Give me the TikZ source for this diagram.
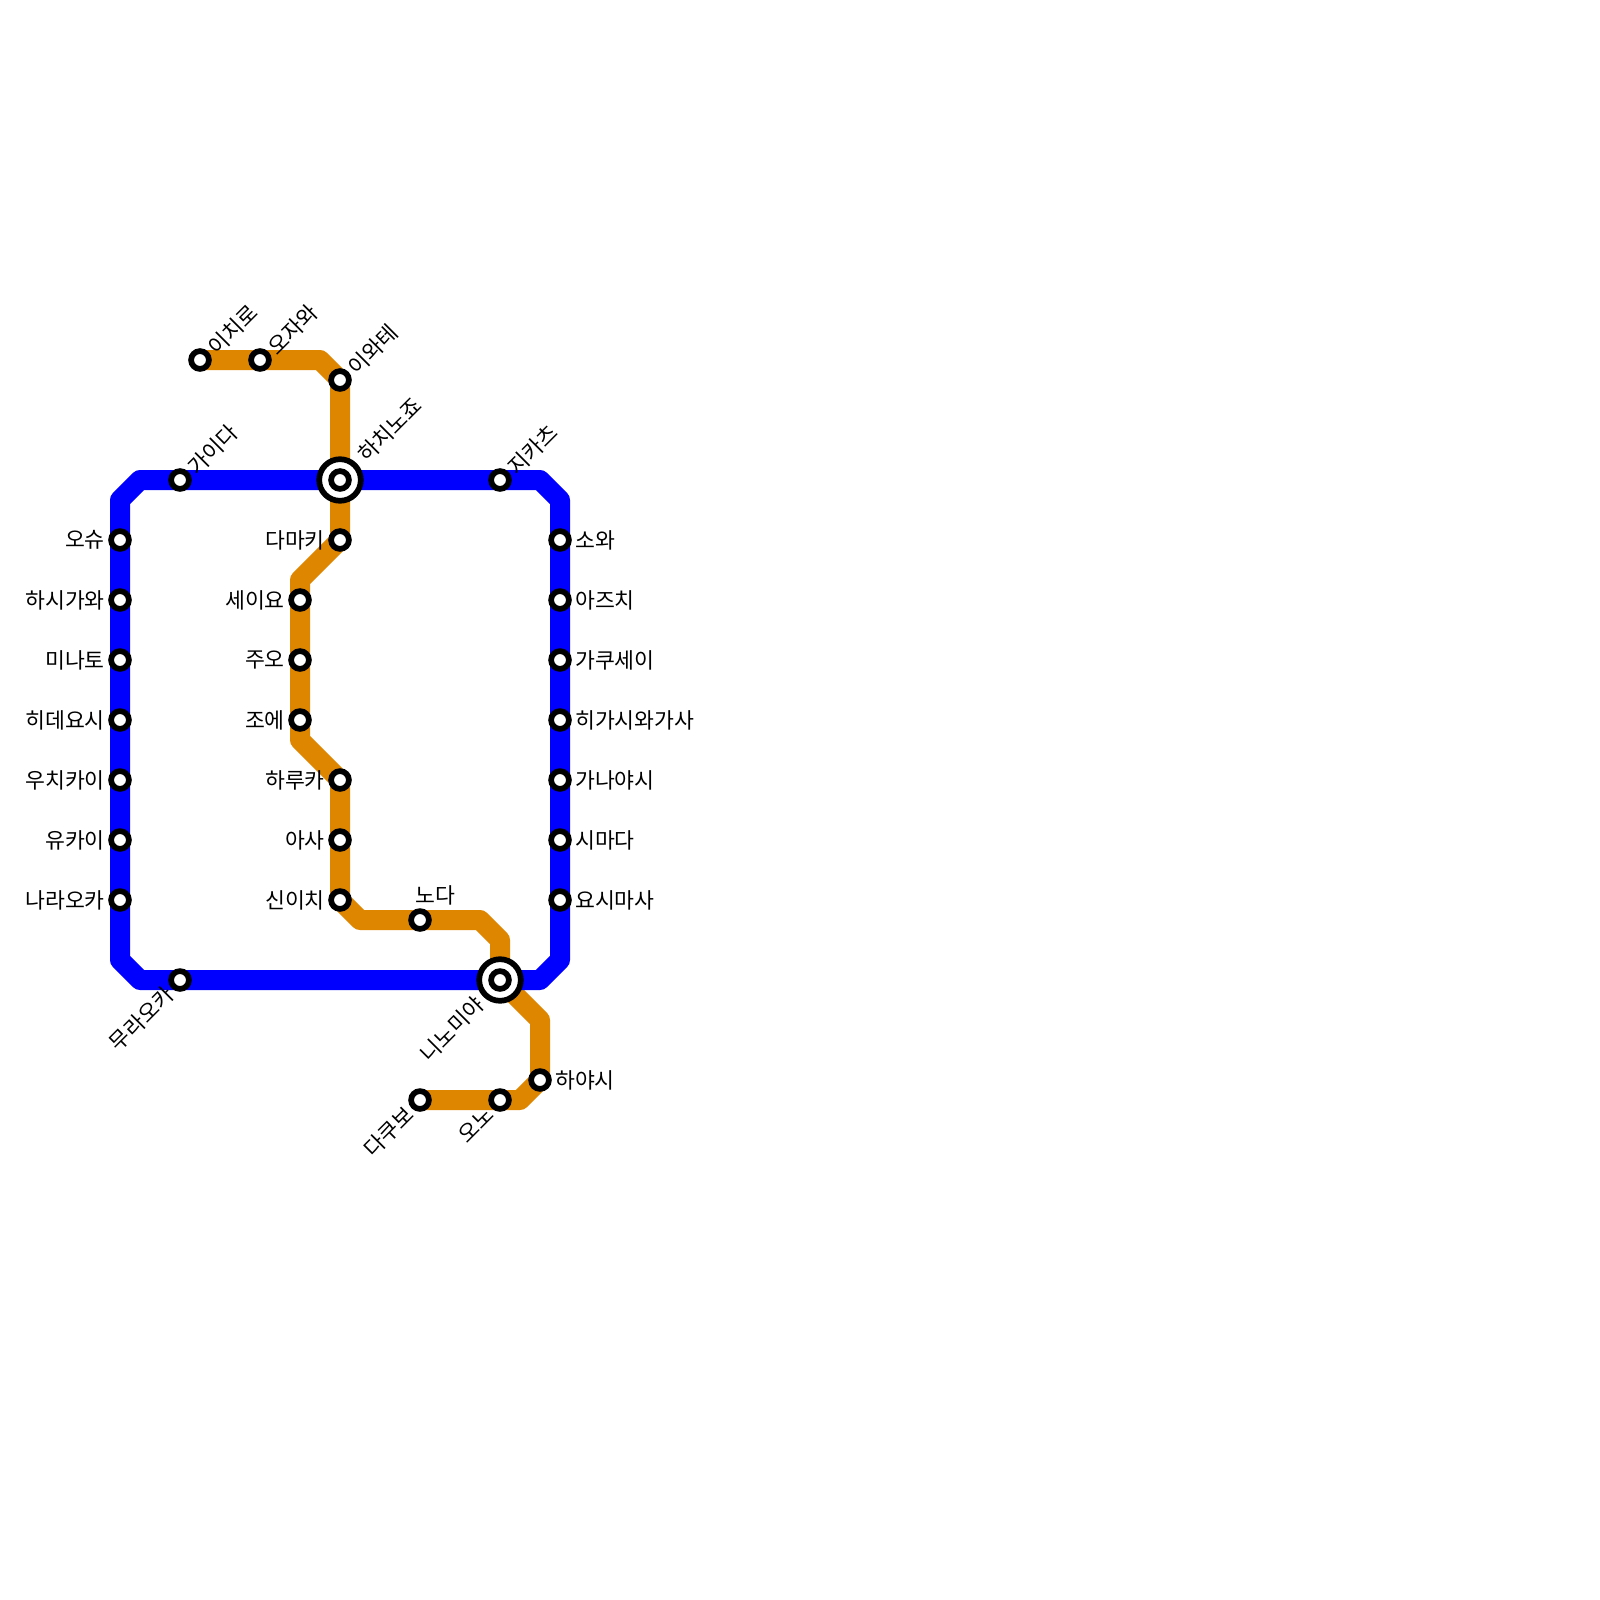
\documentclass[tikz,border=0pt]{standalone}
\usepackage{fontspec}
\setmainfont{Noto Sans CJK KR}
\definecolor{lineblue}{RGB}{0,0,255}
\definecolor{lineorange}{RGB}{223,134,0}
\tikzset{
  metro/.style={line width=20pt,line join=round,line cap=butt},
  stn/.style={circle,draw=black,fill=white,line width=5.7pt,minimum size=17.8pt,inner sep=0pt},
  hubring/.style={circle,draw=black,fill=white,line width=5.7pt,minimum size=41.6pt,inner sep=0pt},
  lab/.style={inner sep=0pt,text=black,font=\fontsize{21.6}{21.6}\selectfont},
  labl/.style={lab,anchor=east,xshift=-15pt},
  labr/.style={lab,anchor=west,xshift=15pt},
  labne/.style={lab,anchor=west,rotate=45,xshift=14.8pt,yshift=-2.2pt},
  labsw/.style={lab,anchor=east,rotate=45,xshift=-14.7pt,yshift=0pt},
  labn/.style={lab,anchor=south,yshift=15pt,xshift=15pt}
}
\begin{document}
\begin{tikzpicture}[x=1pt,y=-1pt]
\useasboundingbox (0,0) rectangle (1600,1600);
% blue line bends
\coordinate (b1) at (120,500);
\coordinate (b2) at (140,480);
\coordinate (b3) at (540,480);
\coordinate (b4) at (560,500);
\coordinate (b5) at (560,960);
\coordinate (b6) at (540,980);
\coordinate (b7) at (140,980);
\coordinate (b8) at (120,960);
% orange line bends and ends
\coordinate (o0) at (200,360);
\coordinate (o1) at (320,360);
\coordinate (o2) at (340,380);
\coordinate (o3) at (340,540);
\coordinate (o4) at (300,580);
\coordinate (o5) at (300,740);
\coordinate (o6) at (340,780);
\coordinate (o7) at (340,900);
\coordinate (o8) at (360,920);
\coordinate (o9) at (480,920);
\coordinate (o10) at (500,940);
\coordinate (o11) at (500,980);
\coordinate (o12) at (540,1020);
\coordinate (o13) at (540,1080);
\coordinate (o14) at (520,1100);
\coordinate (o15) at (420,1100);
\draw[metro,lineorange] (o0)--(o1)--(o2)--(o3)--(o4)--(o5)--(o6)--(o7)--(o8)--(o9)--(o10)--(o11)--(o12)--(o13)--(o14)--(o15);
\draw[metro,lineblue] (b1)--(b2)--(b3)--(b4)--(b5)--(b6)--(b7)--(b8)--cycle;
% stations, blue left
\node[stn] (s1) at (120,540) {}; \node[labl] (t1) at (s1) {오슈};
\node[stn] (s2) at (120,600) {}; \node[labl] (t2) at (s2) {하시가와};
\node[stn] (s3) at (120,660) {}; \node[labl] (t3) at (s3) {미나토};
\node[stn] (s4) at (120,720) {}; \node[labl] (t4) at (s4) {히데요시};
\node[stn] (s5) at (120,780) {}; \node[labl] (t5) at (s5) {우치카이};
\node[stn] (s6) at (120,840) {}; \node[labl] (t6) at (s6) {유카이};
\node[stn] (s7) at (120,900) {}; \node[labl] (t7) at (s7) {나라오카};
% blue right
\node[stn] (r1) at (560,540) {}; \node[labr] (u1) at (r1) {소와};
\node[stn] (r2) at (560,600) {}; \node[labr] (u2) at (r2) {아즈치};
\node[stn] (r3) at (560,660) {}; \node[labr] (u3) at (r3) {가쿠세이};
\node[stn] (r4) at (560,720) {}; \node[labr] (u4) at (r4) {히가시와가사};
\node[stn] (r5) at (560,780) {}; \node[labr] (u5) at (r5) {가나야시};
\node[stn] (r6) at (560,840) {}; \node[labr] (u6) at (r6) {시마다};
\node[stn] (r7) at (560,900) {}; \node[labr] (u7) at (r7) {요시마사};
% blue top and bottom
\node[stn] (g1) at (180,480) {}; \node[labne] (v1) at (g1) {가이다};
\node[stn] (g2) at (500,480) {}; \node[labne] (v2) at (g2) {지카츠};
\node[stn] (g3) at (180,980) {}; \node[labsw] (v3) at (g3) {무라오카};
% orange
\node[stn] (a1) at (200,360) {}; \node[labne] (w1) at (a1) {이치로};
\node[stn] (a2) at (260,360) {}; \node[labne] (w2) at (a2) {오자와};
\node[stn] (a3) at (340,380) {}; \node[labne] (w3) at (a3) {이와테};
\node[stn] (a4) at (340,540) {}; \node[labl] (w4) at (a4) {다마키};
\node[stn] (a5) at (300,600) {}; \node[labl] (w5) at (a5) {세이요};
\node[stn] (a6) at (300,660) {}; \node[labl] (w6) at (a6) {주오};
\node[stn] (a7) at (300,720) {}; \node[labl] (w7) at (a7) {조에};
\node[stn] (a8) at (340,780) {}; \node[labl] (w8) at (a8) {하루카};
\node[stn] (a9) at (340,840) {}; \node[labl] (w9) at (a9) {아사};
\node[stn] (a10) at (340,900) {}; \node[labl] (w10) at (a10) {신이치};
\node[stn] (a11) at (420,920) {}; \node[labn] (w11) at (a11) {노다};
\node[stn] (a12) at (540,1080) {}; \node[labr] (w12) at (a12) {하야시};
\node[stn] (a13) at (500,1100) {}; \node[labsw] (w13) at (a13) {오노};
\node[stn] (a14) at (420,1100) {}; \node[labsw] (w14) at (a14) {다쿠보};
% interchanges
\node[hubring] (h1) at (340,480) {}; \node[stn] (h1c) at (h1) {};
\node[lab,anchor=west,rotate=45,xshift=31pt,yshift=0pt] (x1) at (h1) {하치노죠};
\node[hubring] (h2) at (500,980) {}; \node[stn] (h2c) at (h2) {};
\node[lab,anchor=east,rotate=45,xshift=-29pt,yshift=-0.7pt] (x2) at (h2) {니노미야};
\end{tikzpicture}
\end{document}
